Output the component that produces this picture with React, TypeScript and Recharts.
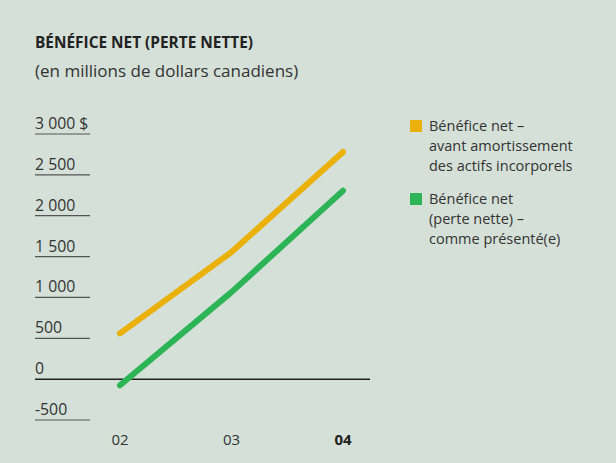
import React from "react";
import { LineChart, Line, XAxis, YAxis, ReferenceLine } from "recharts";

const years = ["02", "03", "04"];
const avantAmortissement = [560, 1555, 2780];
const commePresente = [-75, 1065, 2305];
const yTicks = [-500, 0, 500, 1000, 1500, 2000, 2500, 3000];
const yTickLabels = ["-500", "0", "500", "1 000", "1 500", "2 000", "2 500", "3 000 $"];
const seriesNames = ["Bénéfice net – avant amortissement des actifs incorporels", "Bénéfice net (perte nette) – comme présenté(e)"];
const legendLines = [
  ["Bénéfice net –", "avant amortissement", "des actifs incorporels"],
  ["Bénéfice net", "(perte nette) –", "comme présenté(e)"],
];

const data = years.map((y, i) => ({ year: y, a: avantAmortissement[i], b: commePresente[i] }));

const ORANGE = "#ebb10b";
const GREEN = "#2cb457";
const FONT = "'Open Sans', 'Noto Sans', sans-serif";

const YTick = (props: any) => {
  const { y, payload } = props;
  const idx = yTicks.indexOf(payload.value);
  return (
    <g>
      {payload.value !== 0 && (
        <line x1={35} x2={90} y1={y} y2={y} stroke="#555" strokeWidth={1.2} />
      )}
      <text x={35} y={y - 5} fontSize={15.8} fill="#333" fontFamily={FONT} textAnchor="start">
        {yTickLabels[idx]}
      </text>
    </g>
  );
};

const XTick = (props: any) => {
  const { x, y, payload } = props;
  const last = payload.value === years[years.length - 1];
  return (
    <text x={x} y={y + 17} fontSize={15} fill={last ? "#222" : "#333"} fontWeight={last ? 700 : 400} fontFamily={FONT} textAnchor="middle">
      {payload.value}
    </text>
  );
};

const colors = [ORANGE, GREEN];

export default function App() {
  return (
    <div style={{ position: "absolute", left: 0, top: 0, width: 616, height: 463, background: "#d5e0d8", overflow: "hidden" }}>
      <div style={{ position: "absolute", left: 35, top: 32, fontFamily: FONT, fontWeight: 700, fontSize: 15.4, color: "#222" }}>
        BÉNÉFICE NET (PERTE NETTE)
      </div>
      <div style={{ position: "absolute", left: 35, top: 59, fontFamily: FONT, fontSize: 17, color: "#333" }}>
        (en millions de dollars canadiens)
      </div>
      <div style={{ position: "absolute", left: 0, top: 0 }}>
        <LineChart width={616} height={463} data={data} margin={{ top: 134, right: 246, bottom: 13, left: 34 }}>
          <XAxis dataKey="year" axisLine={false} tickLine={false} padding={{ left: 85, right: 27 }} height={30} tick={<XTick />} interval={0} />
          <YAxis domain={[-500, 3000]} ticks={yTicks} width={1} axisLine={false} tickLine={false} tick={<YTick />} interval={0} />
          <ReferenceLine y={0} stroke="#222" strokeWidth={1.5} />
          <Line dataKey="a" name={seriesNames[0]} stroke={ORANGE} strokeWidth={6} strokeLinecap="round" strokeLinejoin="round" dot={false} isAnimationActive={false} type="linear" />
          <Line dataKey="b" name={seriesNames[1]} stroke={GREEN} strokeWidth={6} strokeLinecap="round" strokeLinejoin="round" dot={false} isAnimationActive={false} type="linear" />
        </LineChart>
      </div>
      <div style={{ position: "absolute", left: 410, top: 116, fontFamily: FONT, fontSize: 14.5, color: "#333", lineHeight: "20px" }}>
        {legendLines.map((lines, i) => (
          <div key={i} style={{ display: "flex", marginBottom: i === 0 ? 13 : 0 }}>
            <div style={{ width: 12, height: 12, background: colors[i], marginTop: 4, marginRight: 7, flexShrink: 0 }} />
            <div>
              {lines.map((l, j) => (
                <div key={j}>{l}</div>
              ))}
            </div>
          </div>
        ))}
      </div>
    </div>
  );
}
